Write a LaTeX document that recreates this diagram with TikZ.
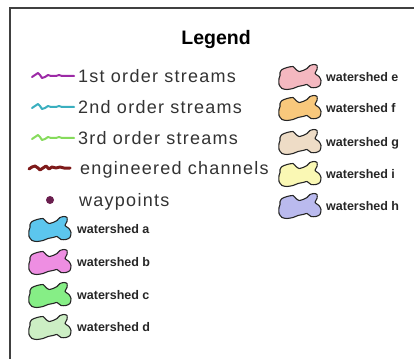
\documentclass[tikz,border=0pt]{standalone}
\usepackage{fontspec}
\setmainfont{Liberation Sans}
\newfontfamily\bigf[LetterSpace=7]{Liberation Sans}
\definecolor{cfirst}{HTML}{9C2AA6}
\definecolor{csecond}{HTML}{3AAFBF}
\definecolor{cthird}{HTML}{86DB5C}
\definecolor{ceng}{HTML}{7E1A1A}
\definecolor{cway}{HTML}{6A1E4E}
\definecolor{wa}{HTML}{5CC6EE}
\definecolor{wb}{HTML}{EE8EE2}
\definecolor{wc}{HTML}{86EE86}
\definecolor{wd}{HTML}{CCEEC4}
\definecolor{we}{HTML}{F4B8C0}
\definecolor{wf}{HTML}{F8C87C}
\definecolor{wg}{HTML}{EEDCC6}
\definecolor{wi}{HTML}{FAF8B4}
\definecolor{wh}{HTML}{BABAEE}
\tikzset{
  bigtext/.style={anchor=base west, inner sep=0pt, font=\bigf\fontsize{18}{18}\selectfont, text=black!80},
  smalltext/.style={anchor=base west, inner sep=0pt, font=\bfseries\fontsize{12.5}{12.5}\selectfont, text=black!85},
  wsh/.style={draw=black!85, line width=1.1pt, line join=round},
  streamline/.style={line width=2pt, line join=round, line cap=round},
}
\newcommand\wshed[3]{%
  \draw[wsh, fill=#3, shift={(#1,#2-12.5)}] plot[smooth cycle, tension=0.4] coordinates {
  (1,8) (3,5) (8,3) (14,2) (17,5) (20,7) (24,6) (28,4) (31,1) (35,0) (38,1) (38,5) (36,9) (40,12) (42,16) (41,21) (37,23) (32,23) (28,20) (24,21) (19,22) (14,24) (8,25) (3,24) (0,20) (0,14) (1,11)};}
\newcommand\streamsym[3]{%
  \draw[streamline, #3, shift={(#1,#2)}] (0,1) -- (3,-1) -- (6,-3) -- (8,-1) -- (10,2) -- (13,1) -- (16,-1) -- (19,0) -- (24,0) -- (27,-1) -- (30,0) -- (36,0) -- (42,0);}
\begin{document}
\begin{tikzpicture}[x=1pt,y=-1pt]
\useasboundingbox (0,0) rectangle (414,358);
\fill[white] (0,0) rectangle (414,358);
\begin{scope}
\clip (0,0) rectangle (414,358);
\draw[line width=2pt, black!75] (10,8) rectangle (430,380);
\end{scope}
\node[anchor=center, inner sep=0pt, font=\bfseries\fontsize{19.5}{19.5}\selectfont] (title) at (216,40) {Legend};
% streams
\streamsym{32}{76}{cfirst}
\node[bigtext] (s1) at (78,82.5) {1st order streams};
\streamsym{32}{107}{csecond}
\node[bigtext] (s2) at (78,113.5) {2nd order streams};
\streamsym{32}{138}{cthird}
\node[bigtext] (s3) at (78,144.5) {3rd order streams};
\draw[line width=3pt, ceng, line join=round, line cap=round, shift={(29,168)}] (0,1) -- (3,-1) -- (6,-2) -- (9,0) -- (11,2) -- (14,0) -- (17,-2) -- (20,1) -- (23,-1) -- (27,0) -- (31,-1) -- (35,0) -- (41,0);
\node[bigtext] (eng) at (80,174.5) {engineered channels};
\fill[cway] (50,200) circle (4);
\node[bigtext] (wp) at (79,206.5) {waypoints};
% watersheds left
\wshed{29}{229}{wa}
\node[smalltext] (la) at (77,233.5) {watershed a};
\wshed{29}{262}{wb}
\node[smalltext] (lb) at (77,266.5) {watershed b};
\wshed{29}{295}{wc}
\node[smalltext] (lc) at (77,299.5) {watershed c};
\wshed{29}{327}{wd}
\node[smalltext] (ld) at (77,331.5) {watershed d};
% watersheds right
\wshed{279}{77}{we}
\node[smalltext] (le) at (326,81.5) {watershed e};
\wshed{279}{108}{wf}
\node[smalltext] (lf) at (326,112.5) {watershed f};
\wshed{279}{142}{wg}
\node[smalltext] (lg) at (326,146.5) {watershed g};
\wshed{279}{174}{wi}
\node[smalltext] (li) at (326,178.5) {watershed i};
\wshed{279}{206}{wh}
\node[smalltext] (lh) at (326,210.5) {watershed h};
\end{tikzpicture}
\end{document}
